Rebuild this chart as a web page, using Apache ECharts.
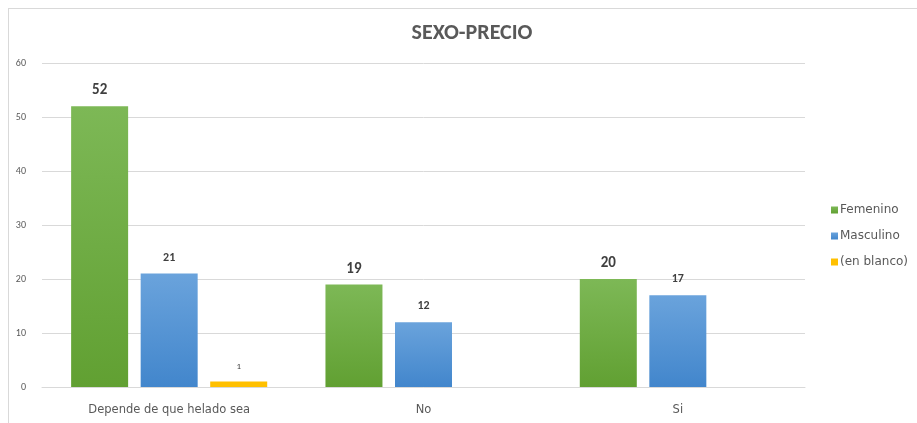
<!DOCTYPE html>
<html><head><meta charset="utf-8">
<script src="https://cdn.jsdelivr.net/npm/echarts@6/dist/echarts.min.js"></script>
<style>
html,body{margin:0;padding:0;background:#fff;}
#frame{position:absolute;left:8px;top:8px;width:920px;height:430px;border:1px solid #d9d9d9;box-sizing:border-box;}
#c{position:absolute;left:0;top:0;width:917px;height:423px;}
</style></head>
<body><div id="frame"></div><div id="c"></div>
<script>
const categories = ['Depende de que helado sea', 'No', 'Si'];
const femenino = [52, 19, 20];
const masculino = [21, 12, 17];
const enBlanco = [1, null, null];
const yTicks = [0, 10, 20, 30, 40, 50, 60];

const chart = echarts.init(document.getElementById('c'), null, {renderer: 'canvas'});
function grad(top, bottom) {
  return new echarts.graphic.LinearGradient(0, 0, 0, 1, [{offset: 0, color: top}, {offset: 1, color: bottom}]);
}
const font = 'Calibri, Carlito, Lato, sans-serif';
const wide = '"DejaVu Sans", sans-serif';
chart.setOption({
  animation: false,
  title: {text: 'SEXO-PRECIO', left: 467, top: 17, textAlign: 'center',
    textStyle: {fontFamily: font, fontSize: 22, fontWeight: 'bold', color: '#595959'}},
  legend: {orient: 'vertical', left: 826, top: 199, itemGap: 14, itemWidth: 7, itemHeight: 7,
    icon: 'rect', textStyle: {fontFamily: wide, fontSize: 12, color: '#595959', padding: [0,0,0,-3]},
    data: ['Femenino', 'Masculino', '(en blanco)']},
  grid: {left: 42, right: 112, top: 63, bottom: 36},
  xAxis: {type: 'category', data: categories,
    axisLine: {show: true, lineStyle: {color: '#d9d9d9'}}, axisTick: {show: false},
    axisLabel: {fontFamily: wide, fontSize: 11.5, color: '#595959', margin: 17}},
  yAxis: {type: 'value', min: yTicks[0], max: yTicks[yTicks.length - 1], interval: 10,
    axisLine: {show: false}, axisTick: {show: false},
    axisLabel: {fontFamily: font, fontSize: 10, color: '#595959', margin: 16},
    splitLine: {lineStyle: {color: '#d9d9d9', width: 1}}},
  series: [
    {name: 'Femenino', type: 'bar', data: femenino, barWidth: 57, barGap: '22%',
      itemStyle: {color: grad('#7db856', '#61a032')},
      label: {show: true, position: 'top', distance: 8, fontFamily: font, fontSize: 15, fontWeight: 'bold', color: '#404040'}},
    {name: 'Masculino', type: 'bar', data: masculino, barWidth: 57,
      itemStyle: {color: grad('#6aa3dc', '#4286cc')},
      label: {show: true, position: 'top', distance: 10, fontFamily: font, fontSize: 12, fontWeight: 'bold', color: '#404040'}},
    {name: '(en blanco)', type: 'bar', data: enBlanco, barWidth: 57,
      itemStyle: {color: '#ffc000'},
      label: {show: true, position: 'top', distance: 10, fontFamily: font, fontSize: 9, color: '#404040'}}
  ]
});
</script></body></html>
